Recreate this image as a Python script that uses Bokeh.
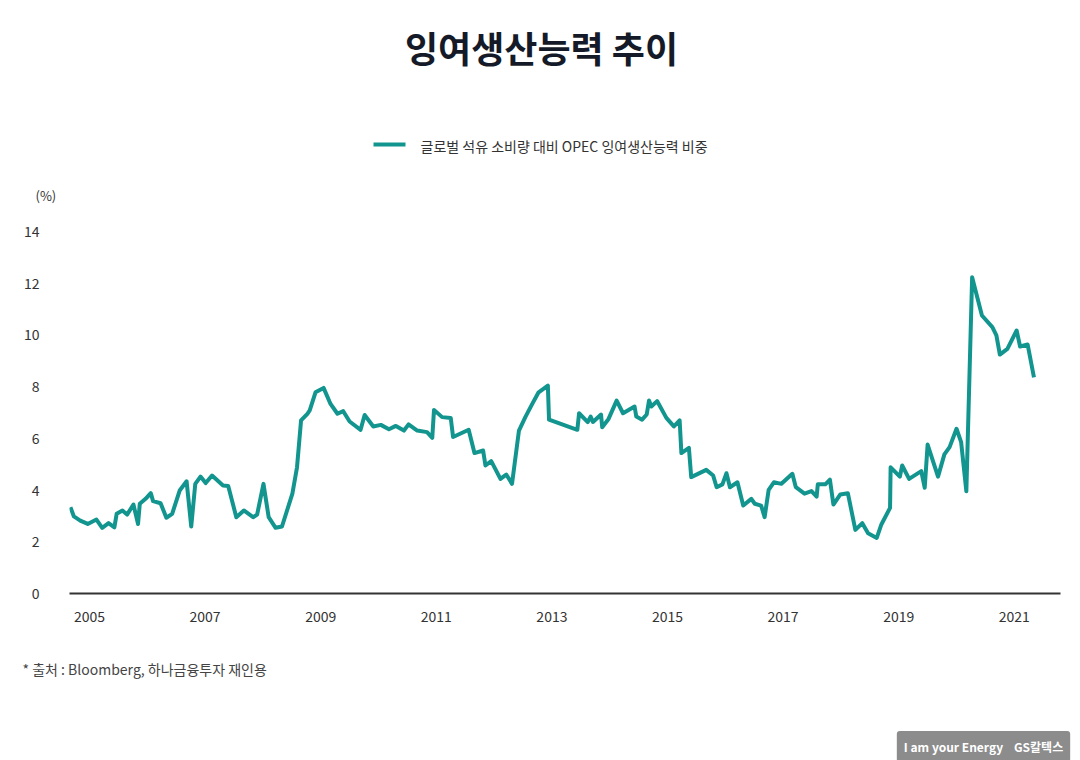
from bokeh.plotting import figure
from bokeh.models import Range1d, FixedTicker, Label
from bokeh.core.properties import value
from bokeh.embed import file_html
from bokeh.resources import INLINE

# ---- data ----
title_text = "잉여생산능력 추이"
series_name = "글로벌 석유 소비량 대비 OPEC 잉여생산능력 비중"
unit_text = "(%)"
source_text = "* 출처 : Bloomberg, 하나금융투자 재인용"
logo_text = "I am your Energy\u00a0\u00a0\u00a0\u00a0GS칼텍스"

x_ticks = [2005, 2007, 2009, 2011, 2013, 2015, 2017, 2019, 2021]
y_ticks = [0, 2, 4, 6, 8, 10, 12, 14]

years = [
    2004.67, 2004.73, 2004.84, 2004.97, 2005.12, 2005.22, 2005.33, 2005.43, 2005.47, 2005.57,
    2005.65, 2005.76, 2005.84, 2005.87, 2005.97, 2006.06, 2006.10, 2006.23, 2006.33, 2006.43,
    2006.56, 2006.68, 2006.76, 2006.83, 2006.92, 2007.01, 2007.12, 2007.31, 2007.40, 2007.54,
    2007.67, 2007.83, 2007.90, 2008.01, 2008.10, 2008.22, 2008.33, 2008.51, 2008.59, 2008.66,
    2008.77, 2008.81, 2008.91, 2009.05, 2009.17, 2009.29, 2009.39, 2009.50, 2009.69, 2009.76,
    2009.91, 2010.04, 2010.18, 2010.30, 2010.44, 2010.52, 2010.67, 2010.84, 2010.93, 2010.96,
    2011.10, 2011.25, 2011.29, 2011.56, 2011.66, 2011.81, 2011.85, 2011.95, 2012.11, 2012.21,
    2012.31, 2012.43, 2012.54, 2012.66, 2012.77, 2012.93, 2012.95, 2013.44, 2013.47, 2013.62,
    2013.67, 2013.71, 2013.85, 2013.87, 2013.98, 2014.12, 2014.23, 2014.43, 2014.46, 2014.56,
    2014.64, 2014.68, 2014.72, 2014.82, 2014.98, 2015.11, 2015.21, 2015.24, 2015.37, 2015.41,
    2015.67, 2015.79, 2015.85, 2015.95, 2016.02, 2016.08, 2016.21, 2016.31, 2016.45, 2016.51,
    2016.62, 2016.68, 2016.75, 2016.84, 2016.97, 2017.16, 2017.22, 2017.37, 2017.49, 2017.58,
    2017.60, 2017.73, 2017.81, 2017.87, 2017.99, 2018.12, 2018.25, 2018.37, 2018.47, 2018.62,
    2018.70, 2018.85, 2018.86, 2019.02, 2019.06, 2019.18, 2019.39, 2019.45, 2019.50, 2019.68,
    2019.79, 2019.88, 2020.00, 2020.08, 2020.17, 2020.27, 2020.44, 2020.62, 2020.69, 2020.75,
    2020.88, 2021.04, 2021.10, 2021.23, 2021.34,
]
share = [
    3.34, 2.98, 2.82, 2.69, 2.86, 2.54, 2.72, 2.56, 3.08, 3.21,
    3.05, 3.44, 2.69, 3.47, 3.66, 3.88, 3.57, 3.49, 2.93, 3.08,
    3.98, 4.34, 2.59, 4.24, 4.52, 4.27, 4.56, 4.18, 4.16, 2.95,
    3.21, 2.95, 3.05, 4.24, 2.95, 2.54, 2.59, 3.86, 4.88, 6.69,
    6.95, 7.08, 7.78, 7.95, 7.33, 6.95, 7.05, 6.65, 6.33, 6.90,
    6.46, 6.52, 6.35, 6.48, 6.30, 6.54, 6.30, 6.24, 6.02, 7.10,
    6.82, 6.79, 6.05, 6.33, 5.43, 5.53, 4.95, 5.12, 4.43, 4.60,
    4.24, 6.30, 6.82, 7.33, 7.78, 8.04, 6.72, 6.33, 6.97, 6.63,
    6.84, 6.63, 6.92, 6.43, 6.75, 7.46, 6.97, 7.23, 6.84, 6.72,
    6.92, 7.46, 7.23, 7.44, 6.79, 6.46, 6.69, 5.43, 5.63, 4.50,
    4.78, 4.56, 4.11, 4.22, 4.65, 4.11, 4.30, 3.40, 3.66, 3.47,
    3.40, 2.95, 4.01, 4.30, 4.24, 4.63, 4.11, 3.86, 3.96, 3.75,
    4.22, 4.22, 4.40, 3.44, 3.83, 3.88, 2.46, 2.72, 2.33, 2.15,
    2.67, 3.31, 4.88, 4.52, 4.95, 4.43, 4.73, 4.09, 5.76, 4.52,
    5.38, 5.66, 6.37, 5.85, 3.95, 12.23, 10.75, 10.30, 9.98, 9.24,
    9.46, 10.17, 9.55, 9.63, 8.36,
]

# ---- style ----
FONT = "Noto Sans CJK KR"
TEAL = "#13958f"
TEXT = "#333333"
W = 1080


def blank(height, top, bottom):
    f = figure(width=W, height=height, x_range=Range1d(0, W), y_range=Range1d(bottom, top),
               output_backend="svg", toolbar_location=None,
               min_border=0, min_border_left=0, min_border_right=0,
               min_border_top=0, min_border_bottom=0)
    f.axis.visible = False
    f.grid.visible = False
    f.outline_line_color = None
    f.background_fill_color = "white"
    f.border_fill_color = "white"
    return f


# ---- header: title, legend, unit ----
head = blank(218, 0, 218)
head.text(x=[541], y=[46], text=[title_text], text_align="center", text_baseline="middle",
          text_font=value(FONT), text_font_size="36px", text_font_style="bold",
          text_color="#151a28")
head.text(x=[35], y=[195], text=[unit_text], text_align="left", text_baseline="middle",
          text_font=value(FONT), text_font_size="13px", text_color=TEXT)
# legend: swatch + series name
head.segment(x0=[373], y0=[144], x1=[405], y1=[144], line_color=TEAL, line_width=4)
head.text(x=[420], y=[145], text=[series_name], text_align="left", text_baseline="middle",
          text_font=value(FONT), text_font_size="14px", text_color=TEXT)

# ---- main chart ----
p = figure(
    width=W, height=415,
    x_range=Range1d(2004.654, 2021.799),
    y_range=Range1d(0, 14.5),
    output_backend="svg", toolbar_location=None,
    min_border_left=69, min_border_right=20,
    min_border_top=0, min_border_bottom=40,
)
p.background_fill_color = "white"
p.border_fill_color = "white"
p.outline_line_color = None
p.xgrid.grid_line_color = None
p.ygrid.grid_line_color = None

p.line(years, share, line_color=TEAL, line_width=4, line_join="round")

xa = p.xaxis[0]
xa.ticker = FixedTicker(ticks=x_ticks)
xa.axis_line_color = "#333333"
xa.axis_line_width = 2
xa.major_tick_line_color = None
xa.minor_tick_line_color = None
xa.major_tick_out = 0
xa.major_tick_in = 0
xa.major_label_standoff = 17
xa.major_label_text_font = FONT
xa.major_label_text_font_size = "14px"
xa.major_label_text_color = TEXT

ya = p.yaxis[0]
ya.ticker = FixedTicker(ticks=y_ticks)
ya.axis_line_color = None
ya.major_tick_line_color = None
ya.minor_tick_line_color = None
ya.major_tick_out = 0
ya.major_tick_in = 0
ya.major_label_standoff = 30
ya.major_label_text_align = "center"
ya.major_label_text_font = FONT
ya.major_label_text_font_size = "14px"
ya.major_label_text_color = TEXT

# ---- footer: source and logo ----
foot = blank(127, 633, 760)
foot.text(x=[22], y=[668], text=[source_text], text_align="left", text_baseline="middle",
          text_font=value(FONT), text_font_size="14px", text_color="#444444")
foot.add_layout(Label(x=983, y=746, text=logo_text, text_align="center",
                      text_baseline="middle", text_font=FONT, text_font_size="12px",
                      text_font_style="bold", text_color="white",
                      background_fill_color="#8c8c8c", padding=7, border_radius=3))

open("out.html", "w").write(file_html([head, p, foot], INLINE))
